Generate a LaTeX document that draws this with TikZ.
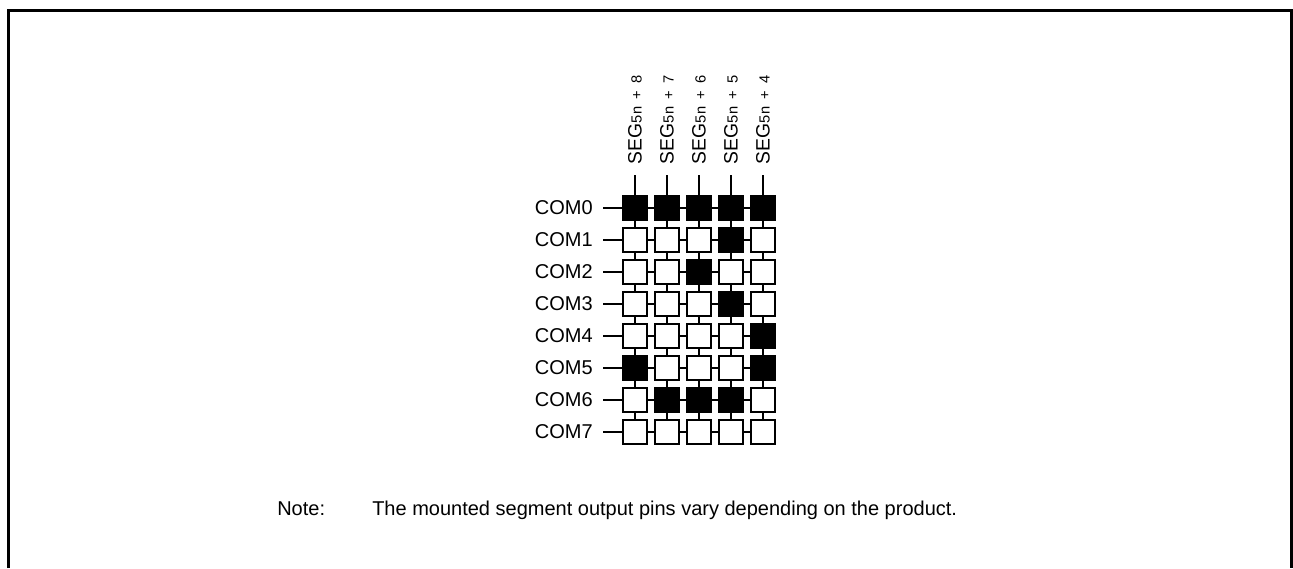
\documentclass[tikz,border=0pt]{standalone}
\usepackage{fontspec}
\setmainfont{Liberation Sans}
\begin{document}
\begin{tikzpicture}[x=0.75pt,y=-0.75pt,
  cell/.style={draw=black,line width=1.5pt,minimum size=18.5pt,inner sep=0pt,fill=white},
  on/.style={fill=black},
  wire/.style={line width=1.1pt},
  comlabel/.style={anchor=east,inner xsep=7.5pt,inner ysep=0pt,font=\fontsize{15}{18}\selectfont},
  seglabel/.style={anchor=west,rotate=90,inner xsep=7.5pt,inner ysep=0pt,font=\fontsize{14.5}{16}\selectfont},
  frame/.style={line width=2.3pt,line cap=butt},
  notetext/.style={anchor=base west,inner sep=0pt,font=\fontsize{15}{18}\selectfont}]
\useasboundingbox (0,0) rectangle (1293,568);
\draw[frame] (8.5,568) -- (8.5,10.8) -- (1291.5,10.8) -- (1291.5,568);
\foreach \r/\bits in {0/{1,1,1,1,1},1/{0,0,0,1,0},2/{0,0,1,0,0},3/{0,0,0,1,0},4/{0,0,0,0,1},5/{1,0,0,0,1},6/{0,1,1,1,0},7/{0,0,0,0,0}}{
  \foreach \b [count=\c from 0] in \bits {
    \ifnum\b=1
      \node[cell,on] (s\r\c) at ({635+32*\c},{208+32*\r}) {};
    \else
      \node[cell] (s\r\c) at ({635+32*\c},{208+32*\r}) {};
    \fi
  }
  \node[comlabel] (com\r) at (603,{208+32*\r}) {COM\r};
  \draw[wire] (com\r.east) -- (s\r0.west);
  \foreach \c [count=\d from 1] in {0,1,2,3} {
    \draw[wire] (s\r\c.east) -- (s\r\d.west);
  }
}
\foreach \c [count=\d from 0] in {0,1,2,3,4}{
  \foreach \r [count=\q from 1] in {0,1,2,3,4,5,6}{
    \draw[wire] (s\r\c.south) -- (s\q\c.north);
  }
}
\foreach \c/\k in {0/8,1/7,2/6,3/5,4/4}{
  \node[seglabel] (seg\c) at ({635+32*\c},175) {SEG{\fontsize{11}{12}\selectfont\hspace{0.6pt}5n\hspace{5.5pt}+\hspace{5.5pt}\k}};
  \draw[wire] (seg\c.west) -- (s0\c.north);
}
\node[notetext] (note) at (277,515) {Note:};
\node[notetext] (notebody) at (372,515) {The mounted segment output pins vary depending on the product.};
\end{tikzpicture}
\end{document}
